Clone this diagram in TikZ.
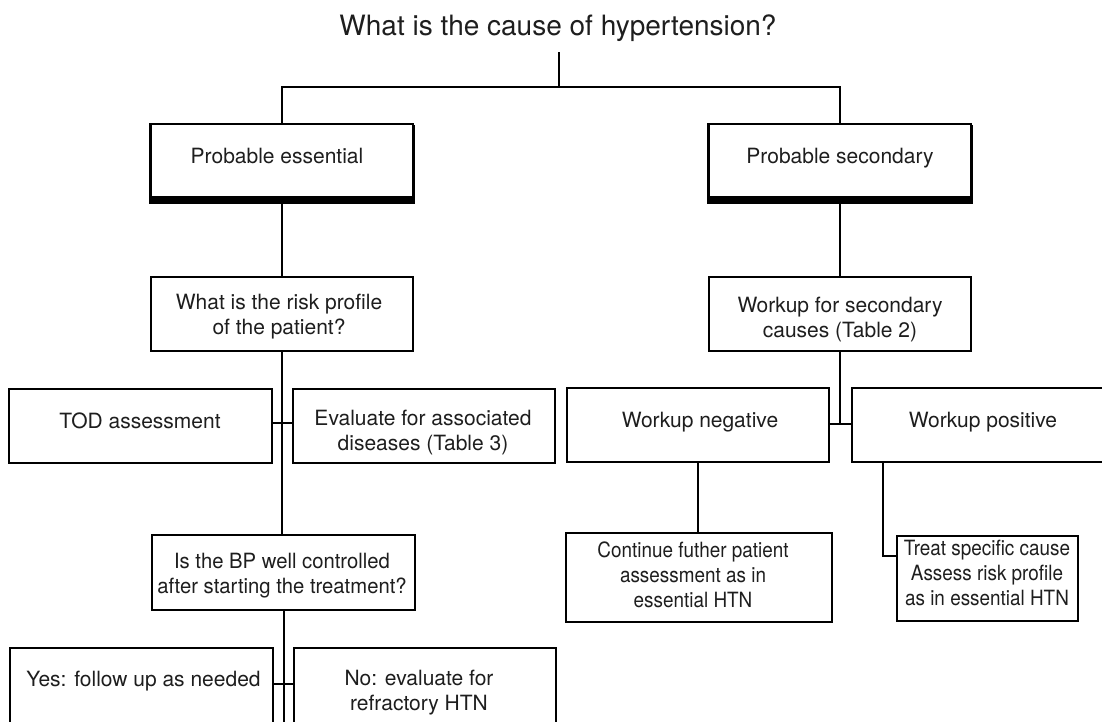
\documentclass[tikz,border=0pt]{standalone}
\usepackage{fontspec}
\setmainfont{TeX Gyre Heros}
\newfontfamily\narrowfont[FakeStretch=0.9]{TeX Gyre Heros}
\newfontfamily\slimfont[FakeStretch=0.965]{TeX Gyre Heros}
\usetikzlibrary{calc}
\definecolor{ink}{HTML}{1E1E1E}
\begin{document}
\begin{tikzpicture}[x=1pt,y=-1pt,
  box/.style={draw=black, line width=1.3pt, rectangle, inner sep=0pt, outer sep=0pt},
  txt/.style={inner sep=0pt, outer sep=0pt, text=ink, align=center, font=\fontsize{21}{25}\selectfont},
  ntxt/.style={txt, font=\narrowfont\fontsize{21}{25}\selectfont},
  stxt/.style={txt, font=\slimfont\fontsize{21}{25}\selectfont},
  ttl/.style={inner sep=0pt, text=ink, font=\fontsize{28}{32}\selectfont},
  link/.style={draw=black, line width=2pt},
  shadowbar/.style={fill=black}]
\useasboundingbox (0,0) rectangle (1102,721);
\fill[white] (0,0) rectangle (1102,721);
\clip (0,0) rectangle (1102,721);

% title
\node[ttl, anchor=base] (title) at (558,35) {What is the cause of hypertension?};
\coordinate (tq) at (559,52);
\coordinate (tj) at (559,87);

% boxes
\node[box, minimum width=263pt, minimum height=73pt] (pe) at (281.5,160.5) {};
\node[box, minimum width=263pt, minimum height=73pt] (ps) at (839.5,160.5) {};
\node[box, minimum width=262pt, minimum height=74pt] (risk) at (282,314) {};
\node[box, minimum width=262pt, minimum height=74pt] (ws) at (840,314) {};
\node[box, minimum width=263pt, minimum height=74pt] (tod) at (140.5,426) {};
\node[box, minimum width=262pt, minimum height=74pt] (eval) at (424,426) {};
\node[box, minimum width=262pt, minimum height=74pt] (wn) at (698,425) {};
\node[box, minimum width=264pt, minimum height=74pt] (wp) at (984,425) {};
\node[box, minimum width=263pt, minimum height=75pt] (bp) at (283.5,572.5) {};
\node[box, minimum width=266pt, minimum height=89pt] (cont) at (699,577.5) {};
\node[box, minimum width=181pt, minimum height=85pt] (treat) at (987.5,578.5) {};
\node[box, minimum width=263pt, minimum height=100pt] (yes) at (141.5,698) {};
\node[box, minimum width=262pt, minimum height=100pt] (no) at (425,698) {};

% shadows of the two top boxes
\fill[shadowbar] ($(pe.south west)+(-1,0)$) rectangle ($(pe.south east)+(2,7)$);
\draw[line width=2.4pt] ($(pe.north west)+(0.5,0)$) -- ($(pe.south west)+(0.5,0)$);
\draw[line width=2.6pt] ($(pe.north east)+(0.6,1)$) -- ($(pe.south east)+(0.6,0)$);
\fill[shadowbar] ($(ps.south west)+(-1,0)$) rectangle ($(ps.south east)+(2,7)$);
\draw[line width=2.4pt] ($(ps.north west)+(0.5,0)$) -- ($(ps.south west)+(0.5,0)$);
\draw[line width=2.6pt] ($(ps.north east)+(0.6,1)$) -- ($(ps.south east)+(0.6,0)$);

% texts
\node[txt, anchor=base] (pet) at (277,163) {Probable essential};
\node[txt, anchor=base] (pst) at (840,163) {Probable secondary};
\node[txt, anchor=north] (riskt) at (279,294) {What is the risk profile\\of the patient?};
\node[txt, anchor=north] (wst) at (840,297) {Workup for secondary\\causes (Table 2)};
\node[txt, anchor=base] (todt) at (140,428) {TOD assessment};
\node[txt, anchor=north] (evalt) at (423,410) {Evaluate for associated\\diseases (Table 3)};
\node[txt, anchor=base] (wnt) at (700,427) {Workup negative};
\node[txt, anchor=base] (wpt) at (983,427) {Workup positive};
\node[stxt, anchor=north] (bpt) at (282,553) {Is the BP well controlled\\after starting the treatment?};
\node[ntxt, anchor=north] (contt) at (693,541.5) {Continue futher patient\\assessment as in\\essential HTN};
\node[ntxt, anchor=north] (treatt) at (987,540) {Treat specific cause\\Assess risk profile\\as in essential HTN};
\node[txt, anchor=base] (yest) at (143.5,686) {Yes: follow up as needed};
\node[txt, anchor=north] (not) at (419,670) {No: evaluate for\\refractory HTN};

% connectors
\coordinate (j1) at (283,423);
\coordinate (j2) at (283,684);
\coordinate (j3) at (840,424);
\coordinate (bpend) at (283.5,740);
\coordinate (wpd) at (883,556);
\draw[line width=1.6pt] (tq) -- (tj);
\draw[link] (pe.north) -- (pe.north |- tj) -- (ps.north |- tj) -- (ps.north);
\draw[link] (pe.south) -- (pe.south |- risk.north);
\draw[link] (ps.south) -- (ps.south |- ws.north);
\draw[link] (risk.south) -- (risk.south |- bp.north);
\draw[link] (tod.east |- j1) -- (eval.west |- j1);
\draw[link] (bp.south) -- (bpend);
\draw[link] (yes.east |- j2) -- (no.west |- j2);
\draw[link] (ws.south) -- (j3);
\draw[link] (wn.east |- j3) -- (wp.west |- j3);
\draw[link] (wn.south) -- (wn.south |- cont.north);
\draw[link] (wp.south -| wpd) -- (wpd) -- (treat.west |- wpd);
\end{tikzpicture}
\end{document}
